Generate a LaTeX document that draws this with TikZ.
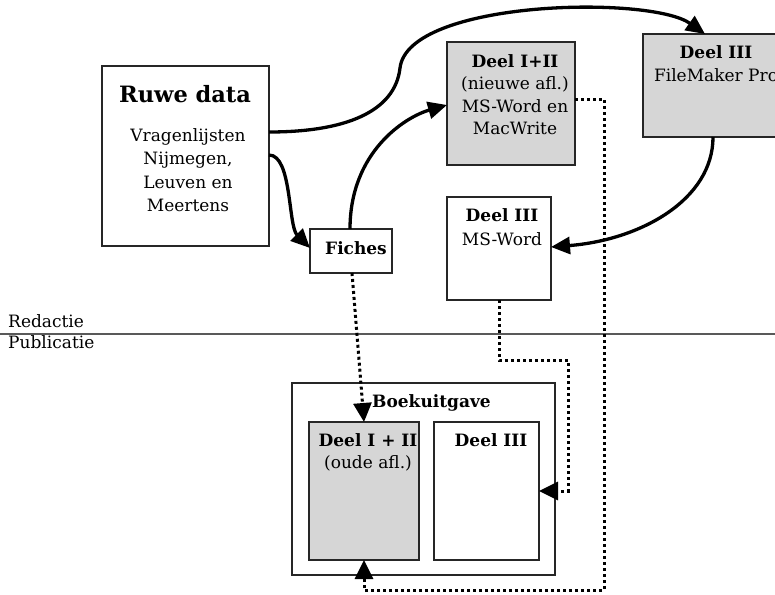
\documentclass[tikz,border=0pt]{standalone}
\usepackage{fontspec}
\setmainfont{DejaVu Serif}
\usetikzlibrary{arrows.meta}
\begin{document}
\begin{tikzpicture}[x=1pt,y=-1pt,
  box/.style={draw=black!85,line width=1.2pt,inner sep=0pt,outer sep=0pt},
  shaded/.style={box,fill=black!16},
  txt/.style={anchor=base,inner sep=0pt,font=\fontsize{17}{20}\selectfont},
  hd/.style={txt,font=\fontsize{17}{20}\selectfont\bfseries},
  flow/.style={line width=3.3pt,-{Triangle[length=19pt,width=17pt]}},
  dots/.style={line width=3pt,dash pattern=on 3pt off 3pt,-{Triangle[length=19pt,width=18pt]}}]
\useasboundingbox (0,0) rectangle (775,594);

% editing / publishing divider
\coordinate (divl) at (0,334);
\coordinate (divr) at (775,334);
\draw[black!65,line width=2pt] (divl) -- (divr);
\node[txt,anchor=base west] (redactie) at (8,327) {Redactie};
\node[txt,anchor=base west] (publicatie) at (8,348) {Publicatie};

% boxes
\node[box,minimum width=167pt,minimum height=180pt] (ruwe) at (185.5,156) {};
\node[shaded,minimum width=128pt,minimum height=123pt] (nieuw) at (511,103.5) {};
\node[shaded,minimum width=146pt,minimum height=103pt] (fm) at (716,85.5) {};
\node[box,minimum width=104pt,minimum height=103pt] (msw) at (499,248.5) {};
\node[box,minimum width=82pt,minimum height=44pt] (fiches) at (351,251) {};
\node[box,minimum width=263pt,minimum height=192pt] (boek) at (423.5,479) {};
\node[shaded,minimum width=110pt,minimum height=138pt] (oud) at (364,491) {};
\node[box,minimum width=105pt,minimum height=138pt] (d3) at (486.5,491) {};

% texts
\node[hd,font=\fontsize{22.5}{26}\selectfont\bfseries] (ruwet) at (185,102) {Ruwe data};
\node[txt] (ruwe1) at (188,141) {Vragenlijsten};
\node[txt] (ruwe2) at (188,164.5) {Nijmegen,};
\node[txt] (ruwe3) at (188,188) {Leuven en};
\node[txt] (ruwe4) at (188,211.5) {Meertens};

\node[hd] (nieuwt) at (515,67) {Deel I+II};
\node[txt] (nieuw1) at (515,89.5) {(nieuwe afl.)};
\node[txt] (nieuw2) at (515,112) {MS-Word en};
\node[txt] (nieuw3) at (515,134.5) {MacWrite};

\node[hd] (fmt) at (716,58) {Deel III};
\node[txt] (fm1) at (716,81) {FileMaker Pro};

\node[hd] (mswt) at (502,221) {Deel III};
\node[txt] (msw1) at (502,245) {MS-Word};

\node[hd] (fichest) at (356,254) {Fiches};

\node[hd,anchor=base west] (boekt) at (372,407) {Boekuitgave};
\node[hd] (oudt) at (368,446) {Deel I + II};
\node[txt] (oud1) at (368,468) {(oude afl.)};
\node[hd] (d3t) at (491,446) {Deel III};

% solid flows
\draw[flow] ([yshift=24pt]ruwe.east) .. controls (345,132) and (395,112) .. (400,68)
  .. controls (408,0) and (650,-5) .. ([xshift=-11pt]fm.north);
\draw[flow] ([yshift=1pt]ruwe.east) .. controls (292,155) and (288,226) .. ([yshift=3pt]fiches.west);
\draw[flow] ([xshift=-1pt]fiches.north) .. controls (350,152) and (405,117) .. ([yshift=-1.5pt]nieuw.west);
\draw[flow] ([xshift=-3pt]fm.south) .. controls (713,200) and (640,240) .. ([yshift=1.5pt]msw.east);

% dotted flows
\coordinate (c1) at (604,590);
\coordinate (c2) at (568,360);
\draw[dots] ([xshift=1pt]fiches.south) -- (oud.north);
\draw[dots] ([yshift=4.5pt]nieuw.east) -| (c1) -| (oud.south);
\draw[dots] (msw.south) |- (c2) |- (d3.east);
\end{tikzpicture}
\end{document}
